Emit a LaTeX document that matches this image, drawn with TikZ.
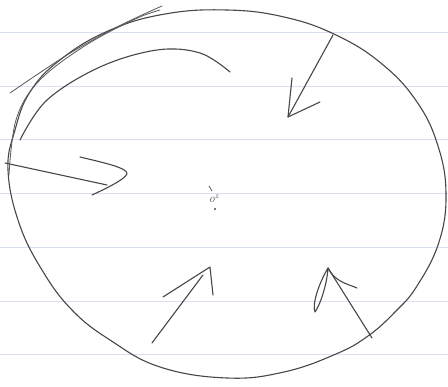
\documentclass[tikz,border=0pt]{standalone}
\begin{document}
\begin{tikzpicture}[x=1pt,y=-1pt,
  pen/.style={draw=black!72, line width=1.1pt, line cap=round, line join=round},
  thinpen/.style={draw=black!65, line width=0.8pt, line cap=round},
  rule/.style={draw=cyan!40!blue!14, line width=1pt}]
\useasboundingbox (0,0) rectangle (448,387);
\fill[white] (0,0) rectangle (448,387);
% ruled paper lines
\foreach \yy in {33,87,140,194,248,302,355}{
  \draw[rule] (0,\yy) -- (448,\yy);
}
% main ellipse (hand-drawn, slightly skewed)
\draw[pen] plot[smooth cycle, tension=0.7] coordinates {
  (227,10) (284,17) (336,35) (382,64) (417,102) (438,146) (446,194)
  (439,242) (417,286) (395,312) (368,336) (336,354) (284,372) (227,378)
  (160,367) (110,340) (72,310) (42,270) (19,223) (8,170) (15,130)
  (30,92) (60,60) (108,31) (165,14)};
% extra sketch strokes
\draw[thinpen] plot[smooth, tension=0.6] coordinates {(10,93) (67,55) (117,27) (162,6)};
\draw[thinpen] plot[smooth, tension=0.6] coordinates {(9,175) (16,120) (38,82) (83,47) (133,20) (160,10)};
\draw[pen] plot[smooth, tension=0.6] coordinates {(20,140) (47,100) (100,67) (157,50) (200,53) (230,72)};
% named points for arrows
\coordinate (a1s) at (333,35);  \coordinate (a1e) at (288,117);
\coordinate (a2s) at (5,163);   \coordinate (a2e) at (107,185);
\coordinate (a3s) at (152,343); \coordinate (a3e) at (203,275);
\coordinate (a4s) at (372,338); \coordinate (a4e) at (328,268);
% arrow 1 (top right, pointing inward)
\draw[pen] (a1s) -- (a1e);
\draw[pen] (292,78) -- (a1e) -- (320,102);
% arrow 2 (left)
\draw[pen] (a2s) -- (a2e);
\draw[pen] (80,157) .. controls (105,163) and (128,168) .. (127,174) .. controls (124,180) and (105,189) .. (92,195);
% arrow 3 (bottom middle)
\draw[pen] (a3s) -- (a3e);
\draw[pen] (163,297) -- (210,267) -- (213,295);
% arrow 4 (bottom right)
\draw[pen] (a4s) -- (a4e);
\draw[pen] (a4e) .. controls (335,282) and (348,284) .. (357,288);
\draw[pen] (a4e) .. controls (318,285) and (312,305) .. (315,312) .. controls (320,305) and (327,285) .. (a4e);
% centre mark
\node[text=black!70, inner sep=0pt, font=\large\itshape] (c) at (214,199) {o\textsuperscript{z}};
\draw[thinpen] (209,186) -- (212,191);
\fill[black!70] (215,209) circle (1.2pt);
\end{tikzpicture}
\end{document}
